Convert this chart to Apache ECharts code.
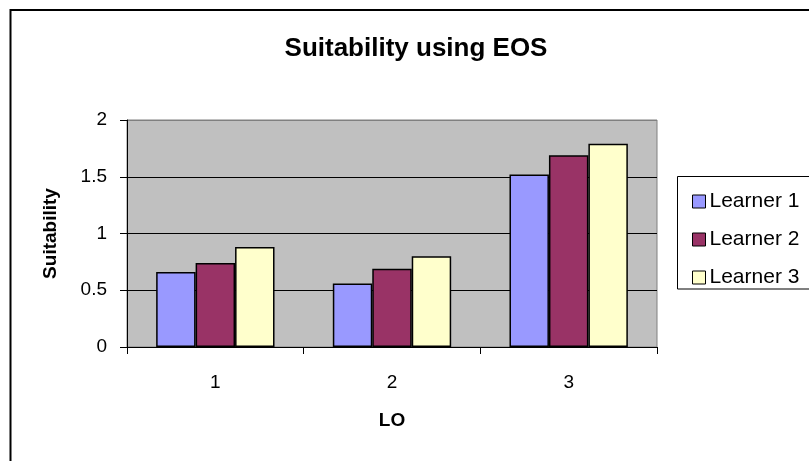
<!DOCTYPE html>
<html>
<head>
<meta charset="utf-8">
<script src="https://cdn.jsdelivr.net/npm/echarts@6/dist/echarts.min.js"></script>
<style>
html,body{margin:0;padding:0;background:#fff;}
#chart{width:809px;height:461px;}
</style>
</head>
<body>
<div id="chart"></div>
<script>
var categories = ['1', '2', '3'];
var learner1 = [0.66, 0.56, 1.52];
var learner2 = [0.74, 0.69, 1.69];
var learner3 = [0.88, 0.80, 1.79];
var seriesNames = ['Learner 1', 'Learner 2', 'Learner 3'];
var yTicks = [0, 0.5, 1, 1.5, 2];

var FONT = 'Liberation Sans, Arial, sans-serif';
var chart = echarts.init(document.getElementById('chart'), null, {renderer: 'canvas'});

function bar(name, data, color) {
  return {
    name: name, type: 'bar', data: data,
    barGap: '0%', barCategoryGap: '33%',
    itemStyle: {color: color, borderColor: '#000', borderWidth: 1.5},
    emphasis: {disabled: true}
  };
}

var option = {
  animation: false,
  backgroundColor: '#fff',
  title: {
    text: 'Suitability using EOS',
    left: 411, top: 31, textAlign: 'center',
    textStyle: {fontFamily: FONT, fontSize: 26, fontWeight: 'bold', color: '#000'}
  },
  graphic: [
    {type: 'rect', shape: {x: 10.5, y: 10, width: 900, height: 600},
     style: {fill: 'none', stroke: '#000', lineWidth: 2}, z: 100},
    {type: 'rect', shape: {x: 677.5, y: 176.5, width: 200, height: 112.5},
     style: {fill: '#fff', stroke: '#000', lineWidth: 1}, z: 1}
  ],
  legend: {
    orient: 'vertical', left: 687, top: 186,
    itemWidth: 13, itemHeight: 13, itemGap: 17,
    icon: 'rect',
    data: seriesNames,
    textStyle: {fontFamily: FONT, fontSize: 21, color: '#000', lineHeight: 20, padding: [0, 0, 0, -1]},
    itemStyle: {borderColor: '#000', borderWidth: 1},
    z: 10
  },
  grid: {
    left: 127, right: 152, top: 120, bottom: 114,
    show: true, backgroundColor: '#C0C0C0', borderColor: '#808080', borderWidth: 1
  },
  xAxis: {
    type: 'category', data: categories,
    name: 'LO', nameLocation: 'middle', nameGap: 64,
    nameTextStyle: {fontFamily: FONT, fontSize: 19, fontWeight: 'bold', color: '#000'},
    axisLine: {lineStyle: {color: '#000', width: 1}},
    axisTick: {show: true, length: 7, alignWithLabel: false, lineStyle: {color: '#000'}},
    axisLabel: {fontFamily: FONT, fontSize: 19, color: '#000', margin: 26}
  },
  yAxis: {
    type: 'value', min: 0, max: 2, interval: 0.5,
    name: 'Suitability', nameLocation: 'middle', nameGap: 67, nameRotate: 90,
    nameTextStyle: {fontFamily: FONT, fontSize: 19, fontWeight: 'bold', color: '#000'},
    axisLine: {show: true, lineStyle: {color: '#000', width: 1}},
    axisTick: {show: true, length: 7, lineStyle: {color: '#000'}},
    axisLabel: {fontFamily: FONT, fontSize: 19, color: '#000', margin: 20,
      formatter: function (v) { return String(v); }},
    splitLine: {show: true, lineStyle: {color: ['#000', '#000', '#000', '#000', '#808080'], width: 1}}
  },
  series: [
    bar(seriesNames[0], learner1, '#9999FF'),
    bar(seriesNames[1], learner2, '#993366'),
    bar(seriesNames[2], learner3, '#FFFFCC')
  ]
};
chart.setOption(option);
</script>
</body>
</html>
